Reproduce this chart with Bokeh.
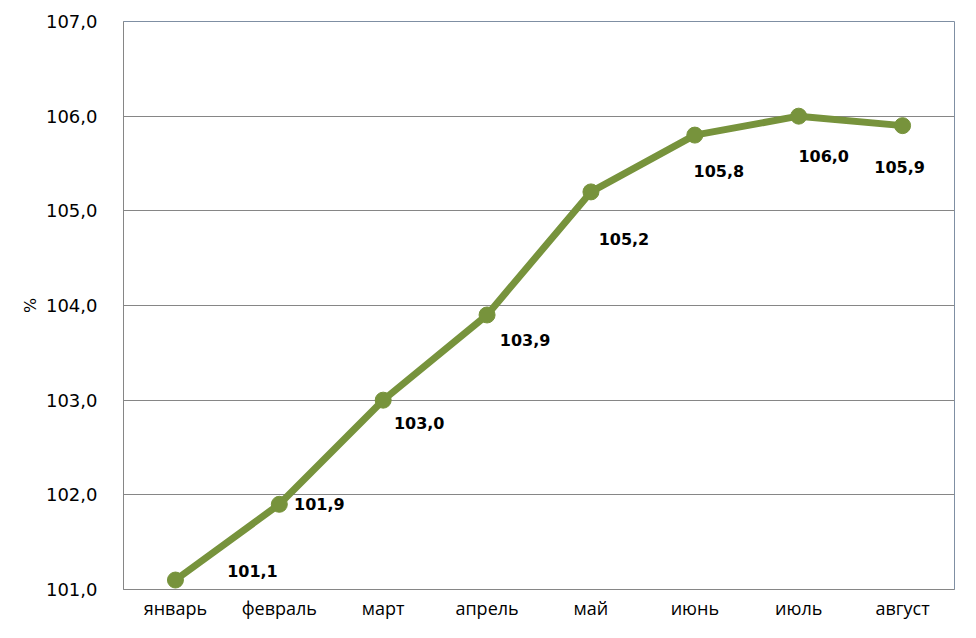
from bokeh.plotting import figure
from bokeh.models import ColumnDataSource, FactorRange, Range1d, FixedTicker, CustomJSTickFormatter
from bokeh.core.properties import value
from bokeh.embed import file_html
from bokeh.resources import INLINE

months = ["январь", "февраль", "март", "апрель", "май", "июнь", "июль", "август"]
values = [101.1, 101.9, 103.0, 103.9, 105.2, 105.8, 106.0, 105.9]
labels = ["101,1", "101,9", "103,0", "103,9", "105,2", "105,8", "106,0", "105,9"]
y_ticks = [101, 102, 103, 104, 105, 106, 107]

# label placement offsets (screen pixels)
label_dx = [77, 40, 36, 38, 33, 24, 25, -3]
label_dy = [-9, 0, 23, 25, 47, 36, 40, 41]

GREEN = "#77933C"

p = figure(width=960, height=622, x_range=FactorRange(*months), y_range=Range1d(101, 107),
           output_backend="svg", toolbar_location=None,
           min_border_left=123, min_border_right=6, min_border_top=21, min_border_bottom=33)

p.outline_line_color = "#7f8fa3"
p.outline_line_width = 1
p.xgrid.grid_line_color = None
p.ygrid.grid_line_color = "#868686"
p.ygrid.grid_line_width = 1

p.yaxis.ticker = FixedTicker(ticks=y_ticks)
p.yaxis.formatter = CustomJSTickFormatter(code="return tick.toFixed(1).replace('.', ',');")
p.yaxis.axis_label = "%"
p.yaxis.axis_label_text_font = "DejaVu Sans"
p.yaxis.axis_label_text_font_style = "normal"
p.yaxis.axis_label_text_font_size = "16px"
p.yaxis.axis_label_text_color = "black"
p.yaxis.axis_label_standoff = 3
p.yaxis.major_label_text_font = "DejaVu Sans"
p.yaxis.major_label_text_font_size = "18px"
p.yaxis.major_label_text_color = "black"
p.yaxis.major_label_standoff = 20
p.yaxis.major_tick_line_color = None
p.yaxis.minor_tick_line_color = None
p.yaxis.axis_line_color = "#868686"

p.xaxis.major_label_text_font = "Open Sans"
p.xaxis.major_label_text_font_size = "18px"
p.xaxis.major_label_text_color = "black"
p.xaxis.major_label_standoff = 0
p.xaxis.major_tick_line_color = None
p.xaxis.axis_line_color = "#868686"

src = ColumnDataSource(dict(x=months, y=values, lab=labels, dx=label_dx, dy=label_dy))
p.line("x", "y", source=src, line_width=7, line_color=GREEN)
p.scatter("x", "y", source=src, size=16, fill_color=GREEN, line_color=GREEN)
p.text("x", "y", text="lab", source=src, x_offset="dx", y_offset="dy",
       text_font=value("DejaVu Sans"), text_font_style="bold", text_font_size="16px",
       text_align="center", text_baseline="middle", text_color="black")

open("out.html", "w").write(file_html(p, INLINE))
